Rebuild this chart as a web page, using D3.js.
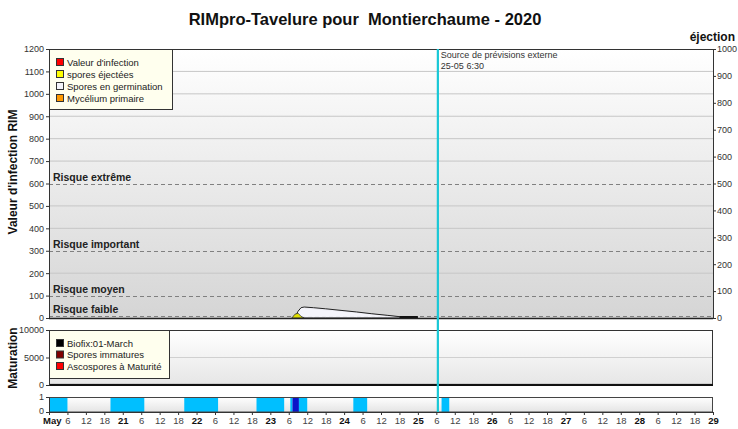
<!DOCTYPE html>
<html><head><meta charset="utf-8">
<script src="https://cdn.jsdelivr.net/npm/d3@7"></script>
<style>body{margin:0;background:#fff}svg{display:block;font-family:"Liberation Sans",Arial,sans-serif}</style>
</head><body><svg id="c" width="738" height="429"></svg>
<script>
// ---- data ----
const title = "RIMpro-Tavelure pour  Montierchaume - 2020";
const leftTicks = [0,100,200,300,400,500,600,700,800,900,1000,1100,1200];
const rightTicks = [0,100,200,300,400,500,600,700,800,900,1000];
const riskLevels = [{label:"Risque extrême",v:600},{label:"Risque important",v:300},{label:"Risque moyen",v:100},{label:"Risque faible",v:10}];
// infection value (hours since 20 May 0:00, RIM value)
const infection = [[80,0],[81,30],[82,46],[83,49],[86,46],[90,41],[95,34],[100,27],[105,19],[110,12],[114,6],[117,3],[120,0]];
const germination = [[83,44],[90,36],[95,30],[100,24],[105,17],[110,10],[114,4],[120,0]];
const ejected = [[79,0],[80,14],[81,18],[82,6],[83,0]];
const matTicks = [0,5000,10000];
const maturation = [[0,150],[216,150]];
// wetness periods [start h, end h, level]
const wetness = [[0,6,1],[20,31,1],[44,55,1],[67.5,76.5,1],[78.5,79.2,1],[79.2,81.3,2],[81.3,84,1],[99,103.5,1],[127.7,130.2,1]];
const forecastHour = 126.5;
const legend1 = [{t:"Valeur d'infection",c:"#ff0000"},{t:"spores éjectées",c:"#ffff00"},{t:"Spores en germination",c:"#f4f4fa"},{t:"Mycélium primaire",c:"#ff9900"}];
const legend2 = [{t:"Biofix:01-March",c:"#000000"},{t:"Spores immatures",c:"#800000"},{t:"Ascospores à Maturité",c:"#ff0000"}];

// ---- layout ----
const svg = d3.select("#c");
const X0=49, X1=713;
const x = d3.scaleLinear().domain([0,216]).range([X0,X1]);
const yL = d3.scaleLinear().domain([0,1200]).range([318,49]);
const yR = d3.scaleLinear().domain([0,1000]).range([318,49]);
const yM = d3.scaleLinear().domain([0,10000]).range([385,330]);
const yW = d3.scaleLinear().domain([0,1]).range([412,397]);
const fmt = d3.format("d");

const defs = svg.append("defs");
function grad(id, c0, c1){
  const g = defs.append("linearGradient").attr("id",id).attr("x1",0).attr("y1",0).attr("x2",0).attr("y2",1);
  g.append("stop").attr("offset","0%").attr("stop-color",c0);
  g.append("stop").attr("offset","100%").attr("stop-color",c1);
}
grad("gMain","#ffffff","#d5d5d5");
grad("gMat","#ffffff","#e6e6e6");
grad("gWet","#ffffff","#e4e4e4");

// title
svg.append("text").attr("x",365).attr("y",25).attr("text-anchor","middle").style("white-space","pre")
  .attr("font-size",16.5).attr("font-weight","bold").attr("fill","#111").text(title);
svg.append("text").attr("x",735).attr("y",41).attr("text-anchor","end")
  .attr("font-size",12).attr("font-weight","bold").attr("fill","#111").text("éjection");

// main panel background
svg.append("rect").attr("x",X0).attr("y",yL(1200)).attr("width",X1-X0).attr("height",yL(0)-yL(1200)).attr("fill","url(#gMain)");
// gridlines
const riskVals = riskLevels.map(d=>d.v);
svg.append("g").selectAll("line").data(leftTicks.filter(t=>t>0 && t<1200 && !riskVals.includes(t))).join("line")
  .attr("x1",X0).attr("x2",X1).attr("y1",d=>yL(d)).attr("y2",d=>yL(d)).attr("stroke","#c6c6c6").attr("stroke-width",1);
// risk lines
const rg = svg.append("g");
rg.selectAll("line").data(riskLevels).join("line")
  .attr("x1",X0).attr("x2",X1).attr("y1",d=>Math.round(yL(d.v))+0.5).attr("y2",d=>Math.round(yL(d.v))+0.5)
  .attr("stroke","#808080").attr("stroke-width",1.2).attr("stroke-dasharray","4,3");
rg.selectAll("text").data(riskLevels).join("text")
  .attr("x",53).attr("y",d=>yL(d.v)-3).attr("font-size",10.5).attr("font-weight","bold").attr("fill","#222").text(d=>d.label);

// series
svg.append("path").datum(germination).attr("fill","none").attr("stroke","#888").attr("stroke-width",1)
  .attr("d",d3.line().x(d=>x(d[0])).y(d=>yL(d[1])));
svg.append("path").datum(infection).attr("fill","#f8f8ff").attr("fill-opacity",0.9).attr("stroke","#222").attr("stroke-width",1)
  .attr("d",d3.area().x(d=>x(d[0])).y0(yL(0)).y1(d=>yL(d[1])));
svg.append("path").datum(ejected).attr("fill","#e0e000").attr("stroke","#333").attr("stroke-width",0.8)
  .attr("d",d3.area().x(d=>x(d[0])).y0(yR(0)).y1(d=>yR(d[1])));
svg.append("line").attr("x1",x(114)).attr("x2",x(120)).attr("y1",yL(0)-1).attr("y2",yL(0)-1).attr("stroke","#111").attr("stroke-width",2);

// axes main
const axL = svg.append("g").attr("transform",`translate(${X0},0)`).call(d3.axisLeft(yL).tickValues(leftTicks).tickFormat(fmt).tickSize(3).tickPadding(2));
const axR = svg.append("g").attr("transform",`translate(${X1},0)`).call(d3.axisRight(yR).tickValues(rightTicks).tickFormat(fmt).tickSize(3).tickPadding(1));
[axL,axR].forEach(a=>{a.select(".domain").attr("stroke","#333");a.selectAll(".tick line").attr("stroke","#333");
  a.selectAll("text").attr("font-size",9).attr("fill","#333").attr("font-family","Liberation Sans, Arial, sans-serif");});
svg.append("line").attr("x1",X0).attr("x2",X1).attr("y1",49.5).attr("y2",49.5).attr("stroke","#333");
svg.append("line").attr("x1",X0).attr("x2",X1).attr("y1",318.5).attr("y2",318.5).attr("stroke","#222").attr("stroke-width",1.5);

svg.append("text").attr("transform","translate(17,172) rotate(-90)").attr("text-anchor","middle")
  .attr("font-size",12).attr("font-weight","bold").attr("fill","#111").text("Valeur d'infection RIM");

// legend 1
const lg1 = svg.append("g");
lg1.append("rect").attr("x",49.5).attr("y",49.5).attr("width",123).attr("height",60).attr("fill","#ffffee").attr("stroke","#333");
legend1.forEach((d,i)=>{
  const yy = 58+i*12;
  lg1.append("rect").attr("x",56.5).attr("y",yy+0.5).attr("width",7).attr("height",7).attr("fill",d.c).attr("stroke","#333");
  lg1.append("text").attr("x",67).attr("y",yy+7.5).attr("font-size",9.5).attr("fill","#222").text(d.t);
});

// maturation panel
svg.append("rect").attr("x",X0).attr("y",yM(10000)).attr("width",X1-X0).attr("height",yM(0)-yM(10000)).attr("fill","url(#gMat)");
svg.append("line").attr("x1",X0).attr("x2",X1).attr("y1",yM(5000)).attr("y2",yM(5000)).attr("stroke","#d0d0d0");
svg.append("path").datum(maturation).attr("fill","none").attr("stroke","#999").attr("stroke-width",1)
  .attr("d",d3.line().x(d=>x(d[0])).y(d=>yM(d[1])));
svg.append("rect").attr("x",X0+0.5).attr("y",yM(10000)+0.5).attr("width",X1-X0-1).attr("height",yM(0)-yM(10000)).attr("fill","none").attr("stroke","#333");
svg.append("line").attr("x1",X0).attr("x2",X1).attr("y1",yM(0)).attr("y2",yM(0)).attr("stroke","#111").attr("stroke-width",2);
const axM = svg.append("g").attr("transform",`translate(${X0},0)`).call(d3.axisLeft(yM).tickValues(matTicks).tickFormat(fmt).tickSize(3).tickPadding(2));
axM.select(".domain").attr("stroke","#333");axM.selectAll(".tick line").attr("stroke","#333");
axM.selectAll("text").attr("font-size",9).attr("fill","#333");
svg.append("text").attr("transform","translate(17,358) rotate(-90)").attr("text-anchor","middle")
  .attr("font-size",12).attr("font-weight","bold").attr("fill","#111").text("Maturation");
const lg2 = svg.append("g");
lg2.append("rect").attr("x",49.5).attr("y",330.5).attr("width",120).attr("height",48).attr("fill","#ffffee").attr("stroke","#333");
legend2.forEach((d,i)=>{
  const yy = 339+i*11.5;
  lg2.append("rect").attr("x",56.5).attr("y",yy+0.5).attr("width",7).attr("height",7).attr("fill",d.c).attr("stroke","#333");
  lg2.append("text").attr("x",67).attr("y",yy+7.5).attr("font-size",9.5).attr("fill","#222").text(d.t);
});

// wetness panel
svg.append("rect").attr("x",X0).attr("y",yW(1)).attr("width",X1-X0).attr("height",yW(0)-yW(1)).attr("fill","url(#gWet)");
svg.append("g").selectAll("rect").data(wetness).join("rect")
  .attr("x",d=>x(d[0])).attr("width",d=>x(d[1])-x(d[0])).attr("y",yW(1)).attr("height",yW(0)-yW(1))
  .attr("fill",d=>d[2]===2?"#0a14c8":"#00bfff");
svg.append("rect").attr("x",X0+0.5).attr("y",yW(1)+0.5).attr("width",X1-X0-1).attr("height",yW(0)-yW(1)-0.5).attr("fill","none").attr("stroke","#444");
const axW = svg.append("g").attr("transform",`translate(${X0},0)`).call(d3.axisLeft(yW).tickValues([0,1]).tickFormat(fmt).tickSize(3).tickPadding(2));
axW.select(".domain").attr("stroke","#333");axW.selectAll(".tick line").attr("stroke","#333");
axW.selectAll("text").attr("font-size",9).attr("fill","#333");
axW.selectAll(".tick").filter(d=>d===0).select("text").attr("dy","0.15em");

// x axis
const xt = d3.range(0,217,6);
const axX = svg.append("g").attr("transform",`translate(0,${yW(0)})`)
  .call(d3.axisBottom(x).tickValues(xt).tickSize(3).tickPadding(2)
    .tickFormat(h=> h===0?"May":(h%24===0? String(20+h/24) : String(h%24))));
axX.select(".domain").attr("stroke","#333");axX.selectAll(".tick line").attr("stroke","#333");
axX.selectAll("text").attr("font-size",9.5).attr("fill",h=>h%24===0?"#111":"#444")
  .attr("font-weight",h=>h%24===0?"bold":"normal");
axX.selectAll(".tick").filter(d=>d===0).select("text").attr("dx","0.3em");

// forecast line
svg.append("line").attr("x1",x(forecastHour)).attr("x2",x(forecastHour)).attr("y1",49).attr("y2",412)
  .attr("stroke","#19c8d6").attr("stroke-width",2.2);
svg.append("text").attr("x",x(forecastHour)+3).attr("y",58).attr("font-size",9).attr("fill","#333").text("Source de prévisions externe");
svg.append("text").attr("x",x(forecastHour)+3).attr("y",69).attr("font-size",9).attr("fill","#333").text("25-05 6:30");
</script></body></html>
